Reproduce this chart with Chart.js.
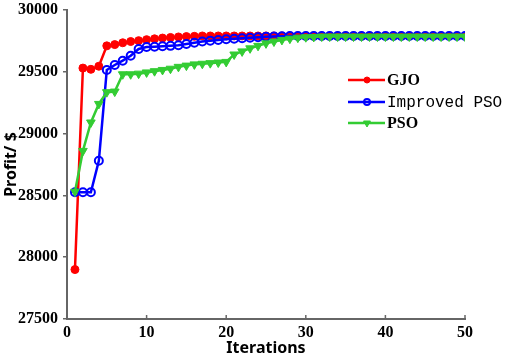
<!DOCTYPE html>
<html>
<head>
<meta charset="utf-8">
<script src="https://cdn.jsdelivr.net/npm/chart.js@4.4.0/dist/chart.umd.min.js"></script>
<style>
  html, body { margin: 0; padding: 0; background: #fff; }
  #wrap { width: 505px; height: 358px; }
</style>
</head>
<body>
<div id="wrap"><canvas id="chart" width="505" height="358"></canvas></div>
<script>
// iteration numbers (x axis)
const iterations = [1, 2, 3, 4, 5, 6, 7, 8, 9, 10,
  11, 12, 13, 14, 15, 16, 17, 18, 19, 20,
  21, 22, 23, 24, 25, 26, 27, 28, 29, 30,
  31, 32, 33, 34, 35, 36, 37, 38, 39, 40,
  41, 42, 43, 44, 45, 46, 47, 48, 49, 50];

// profit values
const gjo = [27900, 29530, 29520, 29545, 29710, 29720, 29735, 29745, 29752, 29760,
  29767, 29773, 29778, 29782, 29785, 29787, 29790, 29790, 29790, 29790,
  29790, 29790, 29790, 29790, 29790, 29790, 29790, 29790, 29790, 29790,
  29790, 29790, 29790, 29790, 29790, 29790, 29790, 29790, 29790, 29790,
  29790, 29790, 29790, 29790, 29790, 29790, 29790, 29790, 29790, 29790];

const improvedPso = [28525, 28525, 28525, 28780, 29515, 29555, 29590, 29630, 29685, 29700,
  29703, 29706, 29710, 29715, 29725, 29735, 29745, 29752, 29758, 29763,
  29768, 29772, 29776, 29780, 29783, 29786, 29788, 29790, 29790, 29790,
  29790, 29790, 29790, 29790, 29790, 29790, 29790, 29790, 29790, 29790,
  29790, 29790, 29790, 29790, 29790, 29790, 29790, 29790, 29790, 29790];

const pso = [28530, 28860, 29090, 29240, 29335, 29340, 29480, 29480, 29485, 29495,
  29505, 29515, 29525, 29540, 29550, 29560, 29565, 29570, 29575, 29580,
  29640, 29665, 29690, 29710, 29730, 29745, 29758, 29768, 29776, 29780,
  29782, 29785, 29785, 29785, 29785, 29785, 29785, 29785, 29785, 29785,
  29785, 29785, 29785, 29785, 29785, 29785, 29785, 29785, 29785, 29785];

const seriesNames = ['GJO', 'Improved PSO', 'PSO'];
const yTicks = [27500, 28000, 28500, 29000, 29500, 30000];
const xTicks = [0, 10, 20, 30, 40, 50];

function toPoints(values) {
  return values.map((v, i) => ({ x: iterations[i], y: v }));
}

// x ticks point inward (up into the plot)
const innerTicks = {
  id: 'innerTicks',
  afterDraw(chart) {
    const ctx = chart.ctx;
    const x = chart.scales.x;
    ctx.save();
    ctx.strokeStyle = '#666';
    ctx.lineWidth = 1.5;
    xTicks.forEach(t => {
      const px = x.getPixelForValue(t);
      ctx.beginPath();
      ctx.moveTo(px, x.top);
      ctx.lineTo(px, x.top - 4);
      ctx.stroke();
    });
    ctx.restore();
  }
};

// legend drawn inside the plot, like the original figure
const insideLegend = {
  id: 'insideLegend',
  afterDraw(chart) {
    const ctx = chart.ctx;
    const rows = [80, 102, 123];
    const fonts = ['bold 16px "Liberation Serif"', '16px "Liberation Mono"', 'bold 16px "Liberation Serif"'];
    ctx.save();
    chart.data.datasets.forEach((ds, i) => {
      const y = rows[i];
      ctx.strokeStyle = ds.borderColor;
      ctx.lineWidth = 2.5;
      ctx.beginPath();
      ctx.moveTo(348, y);
      ctx.lineTo(385, y);
      ctx.stroke();
      ctx.fillStyle = ds.pointBackgroundColor;
      ctx.strokeStyle = ds.borderColor;
      ctx.lineWidth = ds.pointBorderWidth;
      Chart.helpers.drawPoint(ctx, {
        pointStyle: ds.pointStyle,
        rotation: ds.pointRotation || 0,
        radius: ds.pointRadius - 1,
        borderWidth: ds.pointBorderWidth
      }, 367, y);
      ctx.fillStyle = '#000';
      ctx.font = fonts[i];
      ctx.textBaseline = 'middle';
      ctx.fillText(ds.label, 387, y + 1);
    });
    ctx.restore();
  }
};

new Chart(document.getElementById('chart'), {
  type: 'line',
  data: {
    datasets: [
      {
        label: seriesNames[0],
        data: toPoints(gjo),
        borderColor: '#ff0000',
        backgroundColor: '#ff0000',
        pointBackgroundColor: '#ff0000',
        pointStyle: 'circle',
        pointRadius: 4,
        pointBorderWidth: 1,
        borderWidth: 2.5,
        order: 3
      },
      {
        label: seriesNames[1],
        data: toPoints(improvedPso),
        borderColor: '#0000ff',
        backgroundColor: '#ffffff',
        pointBackgroundColor: 'rgba(255,255,255,0)',
        pointStyle: 'circle',
        pointRadius: 4,
        pointBorderWidth: 2,
        borderWidth: 2.5,
        order: 2
      },
      {
        label: seriesNames[2],
        data: toPoints(pso),
        borderColor: '#33cc33',
        backgroundColor: '#33cc33',
        pointBackgroundColor: '#33cc33',
        pointStyle: 'triangle',
        pointRotation: 180,
        pointRadius: 5,
        pointBorderWidth: 1,
        borderWidth: 2.5,
        order: 1
      }
    ]
  },
  options: {
    responsive: false,
    animation: false,
    layout: { padding: { top: 10, right: 40, left: 0, bottom: 0 } },
    plugins: {
      legend: { display: false },
      tooltip: { enabled: false }
    },
    scales: {
      x: {
        type: 'linear',
        min: 0,
        max: 50,
        afterBuildTicks: s => { s.ticks = xTicks.map(v => ({ value: v })); },
        afterFit: s => { s.height = 39; s.paddingLeft = 0; s.paddingRight = 0; },
        grid: { drawOnChartArea: false, drawTicks: false },
        border: { color: '#666', width: 2 },
        ticks: { color: '#000', padding: 4, callback: v => String(v), font: { family: 'Liberation Serif', size: 16, weight: 'bold' } },
        title: {
          display: true,
          text: 'Iterations',
          color: '#000',
          padding: 0,
          font: { family: 'Noto Sans', size: 16, weight: 'bold' }
        }
      },
      y: {
        min: 27500,
        max: 30000,
        afterBuildTicks: s => { s.ticks = yTicks.map(v => ({ value: v })); },
        afterFit: s => { s.width = 67; s.paddingTop = 0; s.paddingBottom = 0; },
        grid: { drawOnChartArea: false, drawTicks: true, tickLength: 4, color: '#666', lineWidth: 1.5 },
        border: { color: '#666', width: 2 },
        ticks: { color: '#000', padding: 5, callback: v => String(v), font: { family: 'Liberation Serif', size: 16, weight: 'bold' } },
        title: {
          display: true,
          text: 'Profit/ $',
          color: '#000',
          padding: 2,
          font: { family: 'Noto Sans', size: 16, weight: 'bold' }
        }
      }
    }
  },
  plugins: [innerTicks, insideLegend]
});
</script>
</body>
</html>
